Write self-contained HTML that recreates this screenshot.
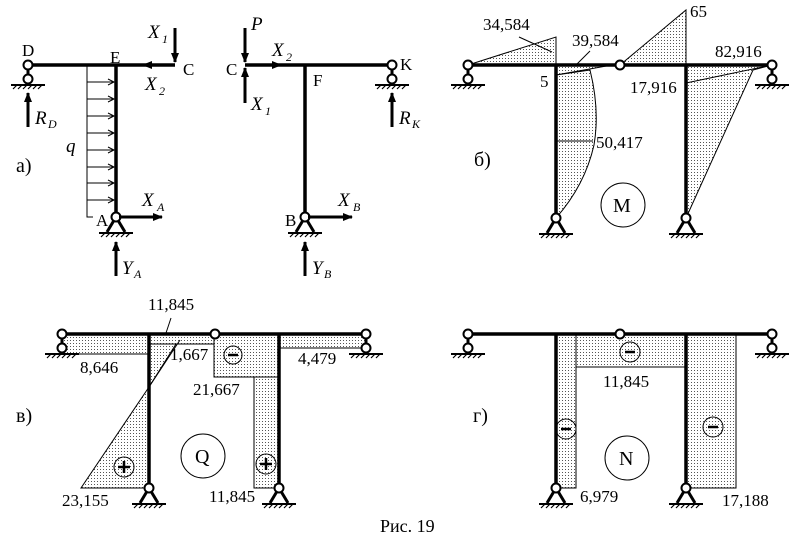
<!DOCTYPE html>
<html><head><meta charset="utf-8"><style>
body{margin:0;background:#fff}
svg{display:block}
text{font-family:"Liberation Serif",serif;font-size:17px;fill:#000}
.i{font-style:italic;font-size:19px}
.s{font-style:italic;font-size:12px}
.b{stroke:#000;stroke-width:3.5;fill:none}
.t{stroke:#000;stroke-width:1;fill:none}
.d{fill:url(#dots);stroke:#000;stroke-width:1}
.p{fill:#fff;stroke:#000;stroke-width:2}
</style></head><body>
<svg width="804" height="544" viewBox="0 0 804 544" xmlns="http://www.w3.org/2000/svg">
<defs>
<pattern id="dots" width="3" height="3" patternUnits="userSpaceOnUse"><rect width="3" height="3" fill="#fff"/><rect x="1" y="1" width="1" height="1" fill="#555"/></pattern>
<marker id="ah" markerWidth="10" markerHeight="8" refX="9" refY="4" orient="auto" markerUnits="userSpaceOnUse"><path d="M0,0 L10,4 L0,8 Z" fill="#000"/></marker>
<g id="roll"><line x1="0" y1="0" x2="0" y2="14" stroke="#000" stroke-width="3"/><circle cx="0" cy="0" r="4.5" class="p"/><circle cx="0" cy="14" r="4.5" class="p"/><line x1="-17" y1="20" x2="17" y2="20" stroke="#000" stroke-width="2"/><path d="M-15,24 l4,-4 M-10,24 l4,-4 M-5,24 l4,-4 M0,24 l4,-4 M5,24 l4,-4 M10,24 l4,-4" stroke="#000" stroke-width="1.2"/></g>
<g id="pin"><path d="M0,0 L-9,15 M0,0 L9,15" stroke="#000" stroke-width="3" fill="none"/><line x1="-17" y1="16" x2="17" y2="16" stroke="#000" stroke-width="2"/><path d="M-15,20 l4,-4 M-10,20 l4,-4 M-5,20 l4,-4 M0,20 l4,-4 M5,20 l4,-4 M10,20 l4,-4" stroke="#000" stroke-width="1.2"/><circle cx="0" cy="0" r="4.5" class="p"/></g>
</defs>

<!-- ===== a) ===== -->
<g>
<path class="t" d="M87,65 V217 H93"/>
<g stroke="#000" stroke-width="1" fill="none">
<path d="M87,82H114 M87,99H114 M87,116H114 M87,133H114 M87,150H114 M87,167H114 M87,183H114 M87,200H114"/>
<path d="M108,79l6,3-6,3 M108,96l6,3-6,3 M108,113l6,3-6,3 M108,130l6,3-6,3 M108,147l6,3-6,3 M108,164l6,3-6,3 M108,180l6,3-6,3 M108,197l6,3-6,3"/>
</g>
<line class="b" x1="28" y1="65" x2="175" y2="65"/>
<line class="b" x1="116" y1="65" x2="116" y2="217"/>
<use href="#roll" x="28" y="65"/>
<use href="#pin" x="116" y="217"/>
<line x1="175" y1="28" x2="175" y2="62" stroke="#000" stroke-width="3" marker-end="url(#ah)"/>
<line x1="175" y1="65" x2="143" y2="65" stroke="#000" stroke-width="3" marker-end="url(#ah)"/>
<line x1="119" y1="217" x2="162" y2="217" stroke="#000" stroke-width="3" marker-end="url(#ah)"/>
<line x1="116" y1="276" x2="116" y2="242" stroke="#000" stroke-width="3" marker-end="url(#ah)"/>
<line x1="28" y1="127" x2="28" y2="93" stroke="#000" stroke-width="3" marker-end="url(#ah)"/>
<text x="22" y="56">D</text><text x="110" y="63">E</text><text x="183" y="75">C</text><text x="96" y="226">A</text>
<text class="i" x="148" y="38">X</text><text class="s" x="162" y="43">1</text>
<text class="i" x="145" y="90">X</text><text class="s" x="159" y="95">2</text>
<text class="i" x="35" y="124">R</text><text class="s" x="48" y="128">D</text>
<text class="i" x="66" y="152">q</text>
<text x="16" y="172" style="font-size:20px">а)</text>
<text class="i" x="142" y="206">X</text><text class="s" x="157" y="211">A</text>
<text class="i" x="122" y="274">Y</text><text class="s" x="134" y="278">A</text>

<line class="b" x1="245" y1="65" x2="392" y2="65"/>
<line class="b" x1="305" y1="65" x2="305" y2="217"/>
<use href="#roll" x="392" y="65"/>
<use href="#pin" x="305" y="217"/>
<line x1="245" y1="28" x2="245" y2="62" stroke="#000" stroke-width="3" marker-end="url(#ah)"/>
<line x1="245" y1="103" x2="245" y2="68" stroke="#000" stroke-width="3" marker-end="url(#ah)"/>
<line x1="245" y1="65" x2="281" y2="65" stroke="#000" stroke-width="3" marker-end="url(#ah)"/>
<line x1="308" y1="217" x2="352" y2="217" stroke="#000" stroke-width="3" marker-end="url(#ah)"/>
<line x1="305" y1="276" x2="305" y2="242" stroke="#000" stroke-width="3" marker-end="url(#ah)"/>
<line x1="392" y1="127" x2="392" y2="93" stroke="#000" stroke-width="3" marker-end="url(#ah)"/>
<text x="226" y="75">C</text><text x="313" y="86">F</text><text x="400" y="70">K</text><text x="285" y="226">B</text>
<text class="i" x="251" y="30">P</text>
<text class="i" x="272" y="56">X</text><text class="s" x="286" y="61">2</text>
<text class="i" x="251" y="110">X</text><text class="s" x="265" y="115">1</text>
<text class="i" x="399" y="124">R</text><text class="s" x="412" y="128">K</text>
<text class="i" x="338" y="206">X</text><text class="s" x="353" y="211">B</text>
<text class="i" x="312" y="274">Y</text><text class="s" x="324" y="278">B</text>
</g>

<!-- ===== б) M ===== -->
<g>
<polygon class="d" points="468,65 556,37 556,65"/>
<polygon class="d" points="686,65 620,65 686,10"/>
<polygon class="d" points="556,65 612,65 556,75"/>
<path class="d" d="M556,75 L590,70 Q600,110 594,145 Q585,185 556,218 Z"/>
<line class="t" x1="556" y1="141" x2="593" y2="141"/>
<polygon class="d" points="686,65 772,65 753,70 686,218"/>
<line class="t" x1="772" y1="65" x2="686" y2="83"/>
<line class="t" x1="519" y1="37" x2="552" y2="52"/>
<line class="t" x1="577" y1="64" x2="590" y2="51"/>
<line class="b" x1="468" y1="65" x2="772" y2="65"/>
<line class="b" x1="556" y1="65" x2="556" y2="218"/>
<line class="b" x1="686" y1="65" x2="686" y2="218"/>
<use href="#roll" x="468" y="65"/><use href="#roll" x="772" y="65"/>
<use href="#pin" x="556" y="218"/><use href="#pin" x="686" y="218"/>
<circle cx="620" cy="65" r="4.5" class="p"/>
<circle cx="623" cy="205" r="22" class="t"/>
<text x="613" y="212" style="font-size:20px">M</text>
<text x="483" y="30">34,584</text><text x="572" y="46">39,584</text>
<text x="690" y="17">65</text><text x="715" y="57">82,916</text>
<text x="630" y="93">17,916</text><text x="540" y="87">5</text>
<text x="596" y="148">50,417</text>
<text x="474" y="166" style="font-size:20px">б)</text>
</g>

<!-- ===== в) Q ===== -->
<g>
<polygon class="d" points="62,334 149,334 149,354 62,354"/>
<polygon class="d" points="149,334 214,334 214,344 149,344"/>
<polygon class="d" points="214,334 279,334 279,377 214,377"/>
<polygon class="d" points="254,377 279,377 279,488 254,488"/>
<polygon class="d" points="279,334 366,334 366,348 279,348"/>
<polygon class="d" points="81,488 149,488 149,387"/>
<polygon class="d" points="149,387 149,344 176,344"/>
<line class="t" x1="149" y1="387" x2="180" y2="340"/>
<line class="t" x1="166" y1="333" x2="171" y2="318"/>
<line class="b" x1="62" y1="334" x2="366" y2="334"/>
<line class="b" x1="149" y1="334" x2="149" y2="488"/>
<line class="b" x1="279" y1="334" x2="279" y2="488"/>
<use href="#roll" x="62" y="334"/><use href="#roll" x="366" y="334"/>
<use href="#pin" x="149" y="488"/><use href="#pin" x="279" y="488"/>
<circle cx="215" cy="334" r="4.5" class="p"/>
<circle cx="233" cy="355" r="9" class="t"/><line x1="228" y1="355" x2="238" y2="355" stroke="#000" stroke-width="2.5"/>
<circle cx="124" cy="467" r="10" class="t"/><path d="M118,467h12M124,461v12" stroke="#000" stroke-width="2.5"/>
<circle cx="266" cy="464" r="10" class="t"/><path d="M260,464h12M266,458v12" stroke="#000" stroke-width="2.5"/>
<circle cx="203" cy="456" r="22" class="t"/>
<text x="195" y="463" style="font-size:20px">Q</text>
<text x="148" y="310">11,845</text><text x="170" y="360">1,667</text>
<text x="80" y="373">8,646</text><text x="193" y="395">21,667</text>
<text x="298" y="364">4,479</text>
<text x="62" y="506">23,155</text><text x="209" y="502">11,845</text>
<text x="16" y="422" style="font-size:20px">в)</text>
</g>

<!-- ===== г) N ===== -->
<g>
<polygon class="d" points="556,334 686,334 686,367 556,367"/>
<polygon class="d" points="556,334 576,334 576,488 556,488"/>
<polygon class="d" points="686,334 736,334 736,488 686,488"/>
<line class="b" x1="468" y1="334" x2="772" y2="334"/>
<line class="b" x1="556" y1="334" x2="556" y2="488"/>
<line class="b" x1="686" y1="334" x2="686" y2="488"/>
<use href="#roll" x="468" y="334"/><use href="#roll" x="772" y="334"/>
<use href="#pin" x="556" y="488"/><use href="#pin" x="686" y="488"/>
<circle cx="620" cy="334" r="4.5" class="p"/>
<circle cx="630" cy="352" r="10" class="t"/><line x1="625" y1="352" x2="635" y2="352" stroke="#000" stroke-width="2.5"/>
<circle cx="566" cy="429" r="10" class="t"/><line x1="561" y1="429" x2="571" y2="429" stroke="#000" stroke-width="2.5"/>
<circle cx="713" cy="427" r="10" class="t"/><line x1="708" y1="427" x2="718" y2="427" stroke="#000" stroke-width="2.5"/>
<circle cx="627" cy="458" r="22" class="t"/>
<text x="619" y="465" style="font-size:20px">N</text>
<text x="603" y="387">11,845</text>
<text x="580" y="502">6,979</text><text x="722" y="506">17,188</text>
<text x="473" y="422" style="font-size:20px">г)</text>
</g>

<text x="380" y="532" style="font-size:18px">Рис. 19</text>
</svg>
</body></html>
